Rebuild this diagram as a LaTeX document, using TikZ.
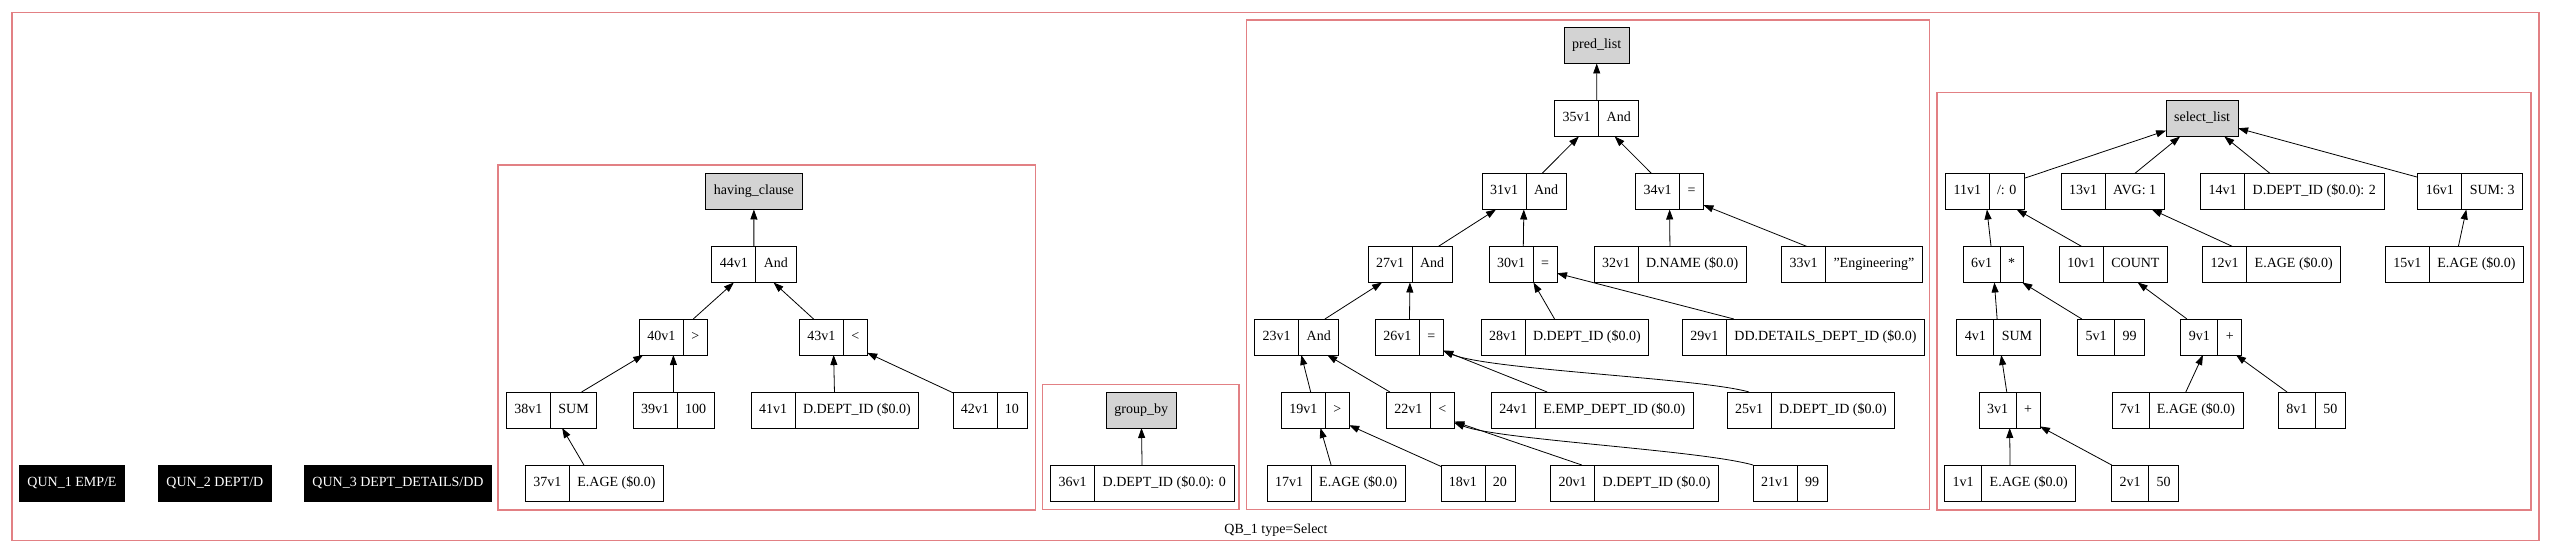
\documentclass[tikz,border=0pt]{standalone}
\usepackage{fontspec}
\setmainfont{Liberation Serif}
\usetikzlibrary{arrows.meta,fit}
\newcommand{\cellfont}{\fontsize{14}{16}\selectfont}
\definecolor{clusred}{RGB}{226,128,132}
\definecolor{lblgray}{RGB}{211,211,211}
\newcommand{\recnode}[5]{%
  \node[cell, anchor=west] (#1a) at (#2,#3) {#4};
  \node[cell, anchor=west] (#1b) at (#1a.east) {#5};
  \node[fitbox, fit=(#1a)(#1b)] (#1) {};
}
\tikzset{
  cell/.style={draw=black, line width=0.8pt, inner xsep=8pt, inner ysep=0pt,
    minimum height=36pt, text height=10pt, text depth=3.5pt, outer sep=0pt, font=\cellfont},
  fitbox/.style={draw=none, inner sep=0pt, outer sep=0pt},
  lbl/.style={cell, fill=lblgray},
  qun/.style={cell, fill=black, text=white},
  clus/.style={draw=clusred, line width=1.2pt},
  conn/.style={draw=black, line width=0.8pt, -{Triangle[length=10pt,width=7pt]}},
}
\begin{document}
\begin{tikzpicture}[x=1pt,y=-1pt]
\useasboundingbox (0,0) rectangle (2551,553);
\def\rA{45.5}\def\rB{118.5}\def\rC{191.5}\def\rD{264.5}\def\rE{337}\def\rF{410}\def\rG{483}
% clusters
\draw[clus] (12,12.3) rectangle (2539,540.4);
\draw[clus] (497.9,165) rectangle (1035.4,510);
\draw[clus] (1042.7,384.3) rectangle (1239,509.3);
\draw[clus] (1246.7,20) rectangle (1929.7,509.3);
\draw[clus] (1937,92.3) rectangle (2531,510);
\node[font=\cellfont] (qblabel) at (1276,530) {QB\_1 type=Select};
% QUN boxes
\node[qun] (qun1) at (72,\rG) {QUN\_1 EMP/E};
\node[qun] (qun2) at (214.9,\rG) {QUN\_2 DEPT/D};
\node[qun] (qun3) at (398,\rG) {QUN\_3 DEPT\_DETAILS/DD};
% having clause
\node[lbl] (having) at (753.9,\rC) {having\_clause};
\recnode{n44}{711.8}{\rD}{44v1}{And}
\recnode{n40}{639.3}{\rE}{40v1}{>}
\recnode{n43}{799.3}{\rE}{43v1}{<}
\recnode{n38}{506.4}{\rF}{38v1}{SUM}
\recnode{n39}{633.2}{\rF}{39v1}{100}
\recnode{n41}{751}{\rF}{41v1}{D.DEPT\_ID (\$0.0)}
\recnode{n42}{952.9}{\rF}{42v1}{10}
\recnode{n37}{525.4}{\rG}{37v1}{E.AGE (\$0.0)}
% group by
\node[lbl] (groupby) at (1141.2,\rF) {group\_by};
\recnode{n36}{1050.7}{\rG}{36v1}{D.DEPT\_ID (\$0.0): 0}
% pred list
\node[lbl] (predlist) at (1596.7,\rA) {pred\_list};
\recnode{n35}{1554.7}{\rB}{35v1}{And}
\recnode{n31}{1482}{\rC}{31v1}{And}
\recnode{n34}{1635.5}{\rC}{34v1}{=}
\recnode{n27}{1368.1}{\rD}{27v1}{And}
\recnode{n30}{1489.1}{\rD}{30v1}{=}
\recnode{n32}{1594}{\rD}{32v1}{D.NAME (\$0.0)}
\recnode{n33}{1781.5}{\rD}{33v1}{"Engineering"}
\recnode{n23}{1254.7}{\rE}{23v1}{And}
\recnode{n26}{1375.3}{\rE}{26v1}{=}
\recnode{n28}{1481.1}{\rE}{28v1}{D.DEPT\_ID (\$0.0)}
\recnode{n29}{1682.4}{\rE}{29v1}{DD.DETAILS\_DEPT\_ID (\$0.0)}
\recnode{n19}{1281.3}{\rF}{19v1}{>}
\recnode{n22}{1386.4}{\rF}{22v1}{<}
\recnode{n24}{1491.3}{\rF}{24v1}{E.EMP\_DEPT\_ID (\$0.0)}
\recnode{n25}{1727}{\rF}{25v1}{D.DEPT\_ID (\$0.0)}
\recnode{n17}{1267.2}{\rG}{17v1}{E.AGE (\$0.0)}
\recnode{n18}{1440.9}{\rG}{18v1}{20}
\recnode{n20}{1550.7}{\rG}{20v1}{D.DEPT\_ID (\$0.0)}
\recnode{n21}{1753}{\rG}{21v1}{99}
% select list
\node[lbl] (sellist) at (2202.1,\rB) {select\_list};
\recnode{n11}{1945.5}{\rC}{11v1}{/: 0}
\recnode{n13}{2061.2}{\rC}{13v1}{AVG: 1}
\recnode{n14}{2200.7}{\rC}{14v1}{D.DEPT\_ID (\$0.0): 2}
\recnode{n16}{2417.8}{\rC}{16v1}{SUM: 3}
\recnode{n6}{1963}{\rD}{6v1}{*}
\recnode{n10}{2059.3}{\rD}{10v1}{COUNT}
\recnode{n12}{2202.7}{\rD}{12v1}{E.AGE (\$0.0)}
\recnode{n15}{2385.4}{\rD}{15v1}{E.AGE (\$0.0)}
\recnode{n4}{1956.8}{\rE}{4v1}{SUM}
\recnode{n5}{2077.6}{\rE}{5v1}{99}
\recnode{n9}{2180.8}{\rE}{9v1}{+}
\recnode{n3}{1979}{\rF}{3v1}{+}
\recnode{n7}{2111.9}{\rF}{7v1}{E.AGE (\$0.0)}
\recnode{n8}{2278.3}{\rF}{8v1}{50}
\recnode{n1}{1944.7}{\rG}{1v1}{E.AGE (\$0.0)}
\recnode{n2}{2111.5}{\rG}{2v1}{50}
% edges: having
\draw[conn] (n44) -- (having);
\draw[conn] (n40) -- (n44);
\draw[conn] (n43) -- (n44);
\draw[conn] (n38) -- (n40);
\draw[conn] (n39) -- (n40);
\draw[conn] (n41) -- (n43);
\draw[conn] (n42) -- (n43);
\draw[conn] (n37) -- (n38);
% group by
\draw[conn] (n36) -- (groupby);
% pred
\draw[conn] (n35) -- (predlist);
\draw[conn] (n31) -- (n35);
\draw[conn] (n34) -- (n35);
\draw[conn] (n27) -- (n31);
\draw[conn] (n30) -- (n31);
\draw[conn] (n32) -- (n34);
\draw[conn] (n33) -- (n34);
\draw[conn] (n23) -- (n27);
\draw[conn] (n26) -- (n27);
\draw[conn] (n28) -- (n30);
\draw[conn] (n29) -- (n30);
\draw[conn] (n19) -- (n23);
\draw[conn] (n22) -- (n23);
\draw[conn] (n24) -- (n26);
\draw[conn] (n25a.north) .. controls (1700,378) and (1490,370) .. (n26);
\draw[conn] (n17) -- (n19);
\draw[conn] (n18) -- (n19);
\draw[conn] (n20) -- (n22);
\draw[conn] (n21.north west) .. controls (1700,450) and (1500,440) .. (n22);
% select
\draw[conn] (n11) -- (sellist);
\draw[conn] (n13) -- (sellist);
\draw[conn] (n14) -- (sellist);
\draw[conn] (n16) -- (sellist);
\draw[conn] (n6) -- (n11);
\draw[conn] (n10) -- (n11);
\draw[conn] (n12) -- (n13);
\draw[conn] (n15) -- (n16);
\draw[conn] (n4) -- (n6);
\draw[conn] (n5) -- (n6);
\draw[conn] (n9) -- (n10);
\draw[conn] (n3) -- (n4);
\draw[conn] (n7) -- (n9);
\draw[conn] (n8) -- (n9);
\draw[conn] (n1) -- (n3);
\draw[conn] (n2) -- (n3);
\end{tikzpicture}
\end{document}
